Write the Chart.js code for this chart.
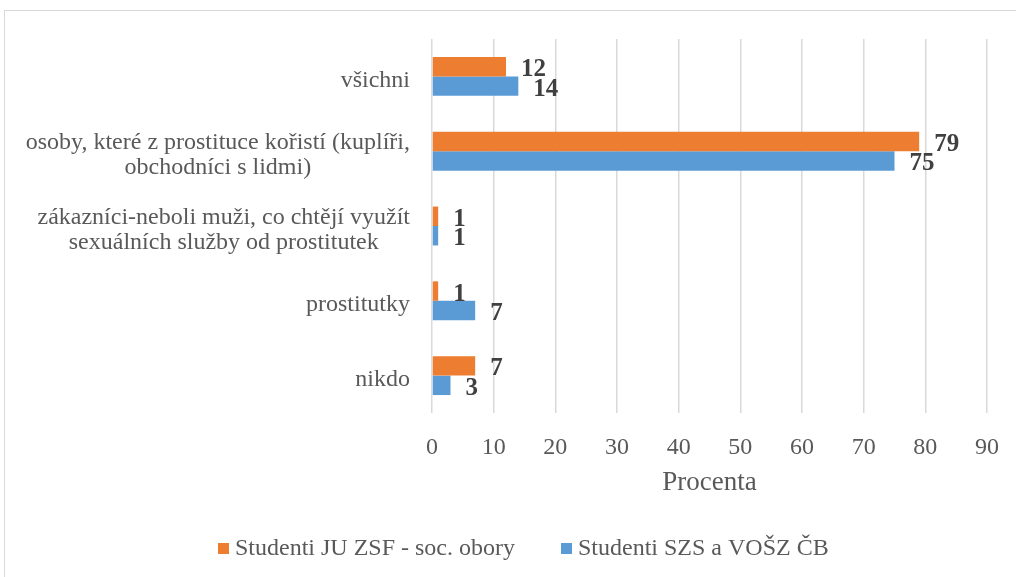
<!DOCTYPE html>
<html>
<head>
<meta charset="utf-8">
<script src="https://cdn.jsdelivr.net/npm/chart.js@4/dist/chart.umd.min.js"></script>
<style>
  html, body { margin: 0; padding: 0; background: #fff; }
  #wrap { width: 1016px; height: 577px; position: relative; }
</style>
</head>
<body>
<div id="wrap"><canvas id="graf"></canvas></div>
<script>
// kategorie odshora dolu
const kategorie = [
  ['všichni'],
  ['osoby, které z prostituce kořistí (kuplíři,', 'obchodníci s lidmi)'],
  ['zákazníci-neboli muži, co chtějí využít', 'sexuálních služby od prostitutek'],
  ['prostitutky'],
  ['nikdo']
];
const nazevJU = 'Studenti JU ZSF - soc. obory';
const nazevSZS = 'Studenti SZS a VOŠZ ČB';
const hodnotyJU = [12, 79, 1, 1, 7];
const hodnotySZS = [14, 75, 1, 7, 3];
const osaX = [0, 10, 20, 30, 40, 50, 60, 70, 80, 90];

const PISMO = "'Liberation Serif', 'Times New Roman', serif";
const ORANZOVA = '#ED7D31';
const MODRA = '#5B9BD5';
const SEDA = '#595959';

// ramecek, popisky kategorii, hodnoty a legenda
const kresleni = {
  id: 'kresleni',
  beforeDraw(chart) {
    const ctx = chart.ctx;
    ctx.save();
    ctx.strokeStyle = '#D9D9D9';
    ctx.lineWidth = 1;
    ctx.strokeRect(4.5, 10.5, 1200, 1000);
    ctx.restore();
  },
  afterDraw(chart) {
    const ctx = chart.ctx;
    const y = chart.scales.y;
    ctx.save();

    // popisky kategorii
    ctx.font = `24px ${PISMO}`;
    ctx.fillStyle = SEDA;
    ctx.textAlign = 'center';
    ctx.textBaseline = 'middle';
    kategorie.forEach((radky, i) => {
      const stred = y.getPixelForValue(i) + 4;
      const sirka = Math.max(...radky.map(r => ctx.measureText(r).width));
      const cx = 410 - sirka / 2;
      const vyska = 25;
      const y0 = stred - (radky.length - 1) * vyska / 2;
      radky.forEach((r, k) => ctx.fillText(r, cx, y0 + k * vyska));
    });

    // hodnoty u sloupcu
    ctx.font = `bold 25px ${PISMO}`;
    ctx.fillStyle = '#404040';
    ctx.textAlign = 'left';
    chart.data.datasets.forEach((ds, i) => {
      const meta = chart.getDatasetMeta(i);
      meta.data.forEach((bar, j) => {
        ctx.fillText(String(ds.data[j]), bar.x + 15, bar.y + 3);
      });
    });

    // legenda
    ctx.font = `24px ${PISMO}`;
    const polozky = [
      { text: nazevJU, barva: ORANZOVA, x: 218 },
      { text: nazevSZS, barva: MODRA, x: 561 }
    ];
    polozky.forEach(p => {
      ctx.fillStyle = p.barva;
      ctx.fillRect(p.x, 543, 11, 11);
      ctx.fillStyle = SEDA;
      ctx.textBaseline = 'middle';
      ctx.fillText(p.text, p.x + 17, 549);
    });
    ctx.restore();
  }
};

const ctx = document.getElementById('graf').getContext('2d');
new Chart(ctx, {
  type: 'bar',
  data: {
    labels: kategorie.map(k => k.join(' ')),
    datasets: [
      {
        label: nazevJU,
        data: hodnotyJU,
        backgroundColor: ORANZOVA,
        categoryPercentage: 0.52,
        barPercentage: 1
      },
      {
        label: nazevSZS,
        data: hodnotySZS,
        backgroundColor: MODRA,
        categoryPercentage: 0.52,
        barPercentage: 1
      }
    ]
  },
  options: {
    indexAxis: 'y',
    responsive: true,
    maintainAspectRatio: false,
    animation: false,
    layout: { padding: { top: 39, right: 29, left: 0, bottom: 0 } },
    plugins: {
      legend: { display: false },
      tooltip: { enabled: false }
    },
    scales: {
      x: {
        min: osaX[0],
        max: osaX[osaX.length - 1],
        afterBuildTicks(scale) {
          scale.ticks = osaX.map(v => ({ value: v }));
        },
        afterFit(scale) {
          scale.height = 164;
          scale.paddingLeft = 0;
          scale.paddingRight = 0;
        },
        border: { display: false },
        grid: { color: '#D9D9D9', lineWidth: 1.5, drawTicks: false },
        ticks: {
          padding: 20,
          color: SEDA,
          font: { family: PISMO, size: 24 }
        },
        title: {
          display: true,
          text: 'Procenta',
          color: SEDA,
          font: { family: PISMO, size: 27 },
          padding: { top: 0, bottom: 78 }
        }
      },
      y: {
        afterFit(scale) {
          scale.width = 432;
        },
        border: { display: false },
        grid: { display: false },
        ticks: { display: false }
      }
    }
  },
  plugins: [kresleni]
});
</script>
</body>
</html>
